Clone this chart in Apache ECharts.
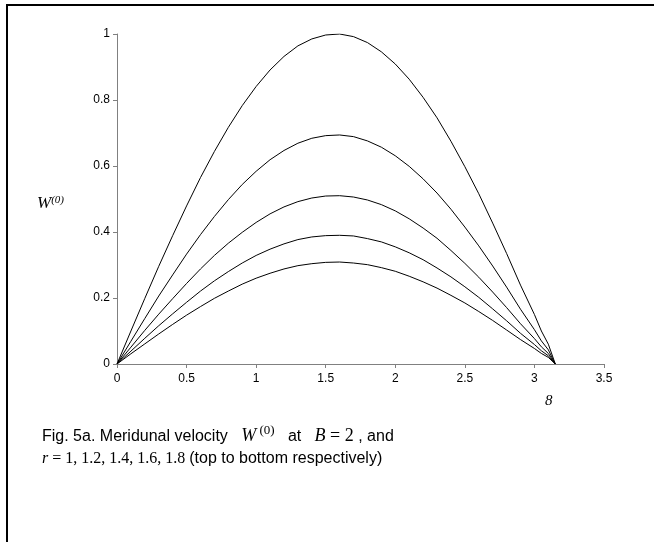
<!DOCTYPE html>
<html>
<head>
<meta charset="utf-8">
<script src="https://cdn.jsdelivr.net/npm/echarts@6/dist/echarts.min.js"></script>
<style>
  html, body { margin: 0; padding: 0; background: #fff; }
  #chart { width: 654px; height: 542px; }
</style>
</head>
<body>
<div id="chart"></div>
<script>
// theta sample points (x axis)
var theta = [0, 0.1, 0.2, 0.3, 0.4, 0.5, 0.6, 0.7, 0.8, 0.9, 1.0, 1.1, 1.2, 1.3, 1.4, 1.5, 1.6,
  1.7, 1.8, 1.9, 2.0, 2.1, 2.2, 2.3, 2.4, 2.5, 2.6, 2.7, 2.8, 2.9, 3.0, 3.05, 3.1, 3.15];

// W(0), one array per r (top to bottom)
var wR10 = [0, 0.100, 0.199, 0.296, 0.389, 0.479, 0.565, 0.644, 0.717, 0.783, 0.841, 0.891, 0.932, 0.964, 0.985, 0.997, 1.0,
  0.992, 0.974, 0.946, 0.909, 0.863, 0.808, 0.746, 0.675, 0.598, 0.516, 0.427, 0.335, 0.239, 0.150, 0.100, 0.060, 0];
var wR12 = [0, 0.069, 0.138, 0.206, 0.270, 0.333, 0.392, 0.447, 0.498, 0.544, 0.584, 0.619, 0.647, 0.669, 0.684, 0.692, 0.694,
  0.689, 0.676, 0.657, 0.631, 0.599, 0.561, 0.518, 0.469, 0.415, 0.358, 0.297, 0.233, 0.166, 0.104, 0.070, 0.043, 0];
var wR14 = [0, 0.051, 0.102, 0.151, 0.198, 0.244, 0.288, 0.329, 0.366, 0.399, 0.429, 0.455, 0.476, 0.492, 0.503, 0.509, 0.510,
  0.506, 0.497, 0.483, 0.464, 0.440, 0.412, 0.381, 0.344, 0.305, 0.263, 0.218, 0.171, 0.122, 0.077, 0.052, 0.032, 0];
var wR16 = [0, 0.039, 0.078, 0.116, 0.152, 0.187, 0.221, 0.252, 0.280, 0.306, 0.329, 0.348, 0.364, 0.377, 0.385, 0.389, 0.390,
  0.388, 0.380, 0.370, 0.355, 0.337, 0.316, 0.291, 0.264, 0.234, 0.202, 0.167, 0.131, 0.093, 0.059, 0.040, 0.025, 0];
var wR18 = [0, 0.031, 0.061, 0.091, 0.120, 0.148, 0.174, 0.199, 0.221, 0.242, 0.260, 0.275, 0.288, 0.298, 0.304, 0.308, 0.309,
  0.306, 0.301, 0.292, 0.281, 0.266, 0.249, 0.230, 0.208, 0.185, 0.159, 0.132, 0.103, 0.074, 0.047, 0.032, 0.020, 0];

var curves = [wR10, wR12, wR14, wR16, wR18];

function pairs(ys) {
  return theta.map(function (t, i) { return [t, ys[i]]; });
}

var myChart = echarts.init(document.getElementById('chart'));

var sans = 'Liberation Sans, Arial, sans-serif';
var serif = 'Liberation Serif, Times New Roman, serif';

var option = {
  animation: false,
  backgroundColor: '#fff',
  grid: { left: 117, right: 50, top: 34, bottom: 178 },
  xAxis: {
    type: 'value', min: 0, max: 3.5, interval: 0.5,
    axisLine: { lineStyle: { color: '#808080', width: 1 } },
    axisTick: { show: true, length: 4, lineStyle: { color: '#808080' } },
    axisLabel: { color: '#000', fontFamily: sans, fontSize: 12, margin: 9 },
    splitLine: { show: false }
  },
  yAxis: {
    type: 'value', min: 0, max: 1, interval: 0.2,
    axisLine: { show: true, lineStyle: { color: '#808080', width: 1 } },
    axisTick: { show: true, length: 4, lineStyle: { color: '#808080' } },
    axisLabel: { color: '#000', fontFamily: sans, fontSize: 12, margin: 7 },
    splitLine: { show: false }
  },
  series: curves.map(function (c) {
    return {
      type: 'line',
      data: pairs(c),
      showSymbol: false,
      lineStyle: { color: '#000', width: 1 },
      silent: true
    };
  }),
  graphic: [
    // outer frame (left and top edges)
    { type: 'polyline', shape: { points: [[7, 542], [7, 5], [654, 5]] },
      style: { stroke: '#000', lineWidth: 2, fill: null } },
    // y axis title
    { type: 'text', left: 37, top: 195,
      style: {
        text: '{w|W}{s|(0)}',
        rich: {
          w: { fontFamily: serif, fontStyle: 'italic', fontSize: 17, fill: '#000' },
          s: { fontFamily: serif, fontStyle: 'italic', fontSize: 11, fill: '#000', verticalAlign: 'bottom', padding: [0, 0, 7, 0] }
        }
      } },
    // x axis title (shown as "8" in the source)
    { type: 'text', left: 545, top: 394,
      style: { text: '8', fontFamily: serif, fontStyle: 'italic', fontSize: 15, fill: '#000' } },
    // caption
    { type: 'text', left: 42, top: 424,
      style: {
        text: '{a|Fig. 5a. Meridunal velocity   }{w|W}{s| (0)}{a|   at   }{w|B}{n| = 2}{a| , and}',
        rich: {
          a: { fontFamily: sans, fontSize: 16, fill: '#000', verticalAlign: 'bottom' },
          w: { fontFamily: serif, fontStyle: 'italic', fontSize: 18, fill: '#000', verticalAlign: 'bottom' },
          n: { fontFamily: serif, fontSize: 18, fill: '#000', verticalAlign: 'bottom' },
          s: { fontFamily: serif, fontSize: 13, fill: '#000', verticalAlign: 'bottom', padding: [0, 0, 8, 0] }
        }
      } },
    { type: 'text', left: 42, top: 451,
      style: {
        text: '{w|r}{n| = 1, 1.2, 1.4, 1.6, 1.8 }{a|(top to bottom respectively)}',
        rich: {
          a: { fontFamily: sans, fontSize: 16, fill: '#000' },
          w: { fontFamily: serif, fontStyle: 'italic', fontSize: 16, fill: '#000' },
          n: { fontFamily: serif, fontSize: 16, fill: '#000' }
        }
      } }
  ]
};

myChart.setOption(option, true);
</script>
</body>
</html>
